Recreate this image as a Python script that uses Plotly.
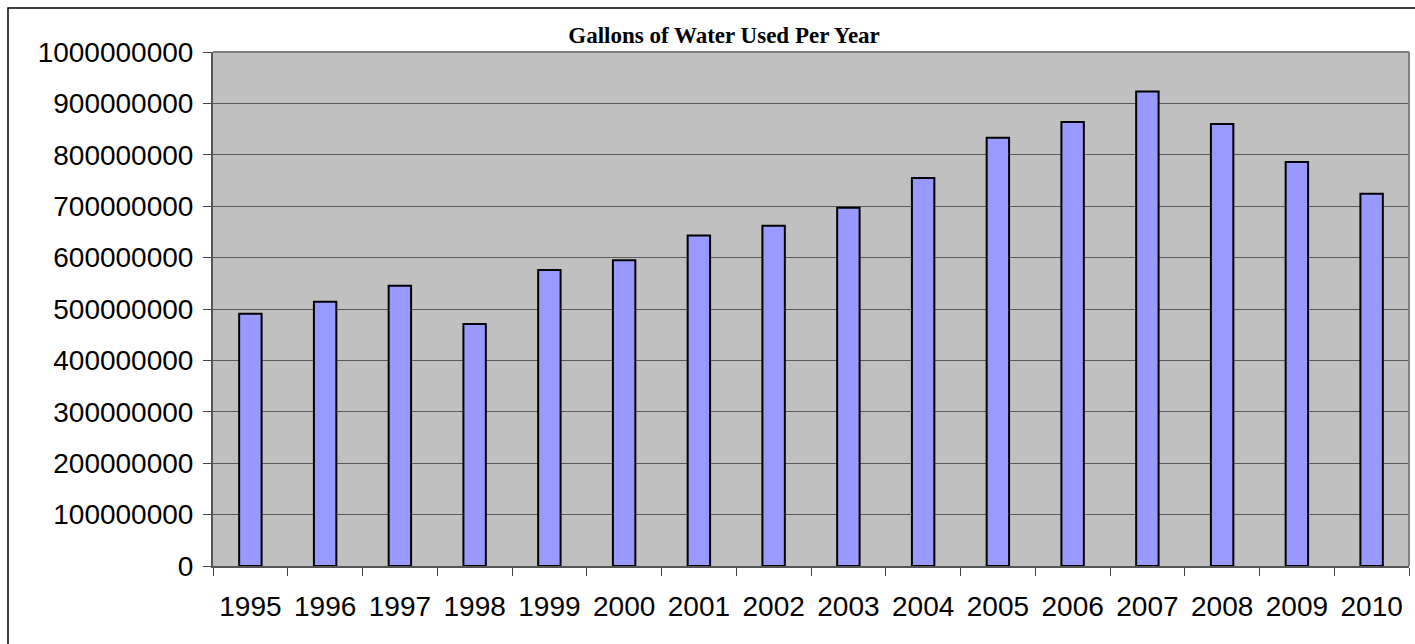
import plotly.graph_objects as go

years = ["1995", "1996", "1997", "1998", "1999", "2000", "2001", "2002",
         "2003", "2004", "2005", "2006", "2007", "2008", "2009", "2010"]
gallons = [491e6, 514e6, 545e6, 471e6, 576e6, 595e6, 643e6, 662e6,
           697e6, 755e6, 833e6, 864e6, 923e6, 860e6, 786e6, 724e6]
y_ticks = [0, 100000000, 200000000, 300000000, 400000000, 500000000,
           600000000, 700000000, 800000000, 900000000, 1000000000]
title_text = "Gallons of Water Used Per Year"

W, H = 1415, 644
ML, MR, MT, MB = 213, 6, 52, 78
pw, ph = W - ML - MR, H - MT - MB

fig = go.Figure(go.Bar(
    x=years, y=gallons,
    marker=dict(color="#9999FF", line=dict(color="#000000", width=2)),
    width=0.3,
))

fig.update_layout(
    width=W, height=H,
    margin=dict(l=ML, r=MR, t=MT, b=MB, pad=0),
    paper_bgcolor="#FFFFFF",
    plot_bgcolor="#C0C0C0",
    showlegend=False,
    title=dict(text="<b>" + title_text + "</b>", x=0.5117, xanchor="center",
               y=1 - 35 / H, yanchor="middle",
               font=dict(family="Liberation Serif", size=23, color="#000000")),
    xaxis=dict(
        type="category",
        showgrid=False,
        ticks="outside", tickson="boundaries", ticklen=8, tickcolor="#444444",
        tickwidth=1,
        showline=True, linecolor="#555555", linewidth=2, mirror=False,
        tickfont=dict(family="Liberation Sans", size=28, color="#000000"),
        ticklabelstandoff=14,
    ),
    yaxis=dict(
        range=[0, 1e9],
        tickvals=y_ticks,
        ticktext=[str(v) for v in y_ticks],
        showgrid=True, gridcolor="#5A5A5A", gridwidth=1,
        ticks="outside", ticklen=8, tickcolor="#444444",
        showline=True, linecolor="#555555", linewidth=2,
        tickfont=dict(family="Liberation Sans", size=28, color="#000000"),
        ticklabelstandoff=4,
        zeroline=False,
    ),
)

# plot-area right/top edges (light gray frame)
fig.add_shape(type="line", xref="paper", yref="paper", x0=1, x1=1, y0=0, y1=1,
              line=dict(color="#808080", width=2))
fig.add_shape(type="line", xref="paper", yref="paper", x0=0, x1=1, y0=1, y1=1,
              line=dict(color="#808080", width=2))

# outer chart border (left/top visible, extends past figure)
fig.add_shape(type="rect", xref="paper", yref="paper",
              x0=(8 - ML) / pw, x1=(W + 10 - ML) / pw,
              y0=-(MB + 10) / ph, y1=1 + (MT - 8) / ph,
              line=dict(color="#000000", width=1.5), layer="below")

fig.write_html("out.html",
               config={"displayModeBar": False},
               post_script="document.body.style.margin='0';document.body.style.overflow='hidden';")
